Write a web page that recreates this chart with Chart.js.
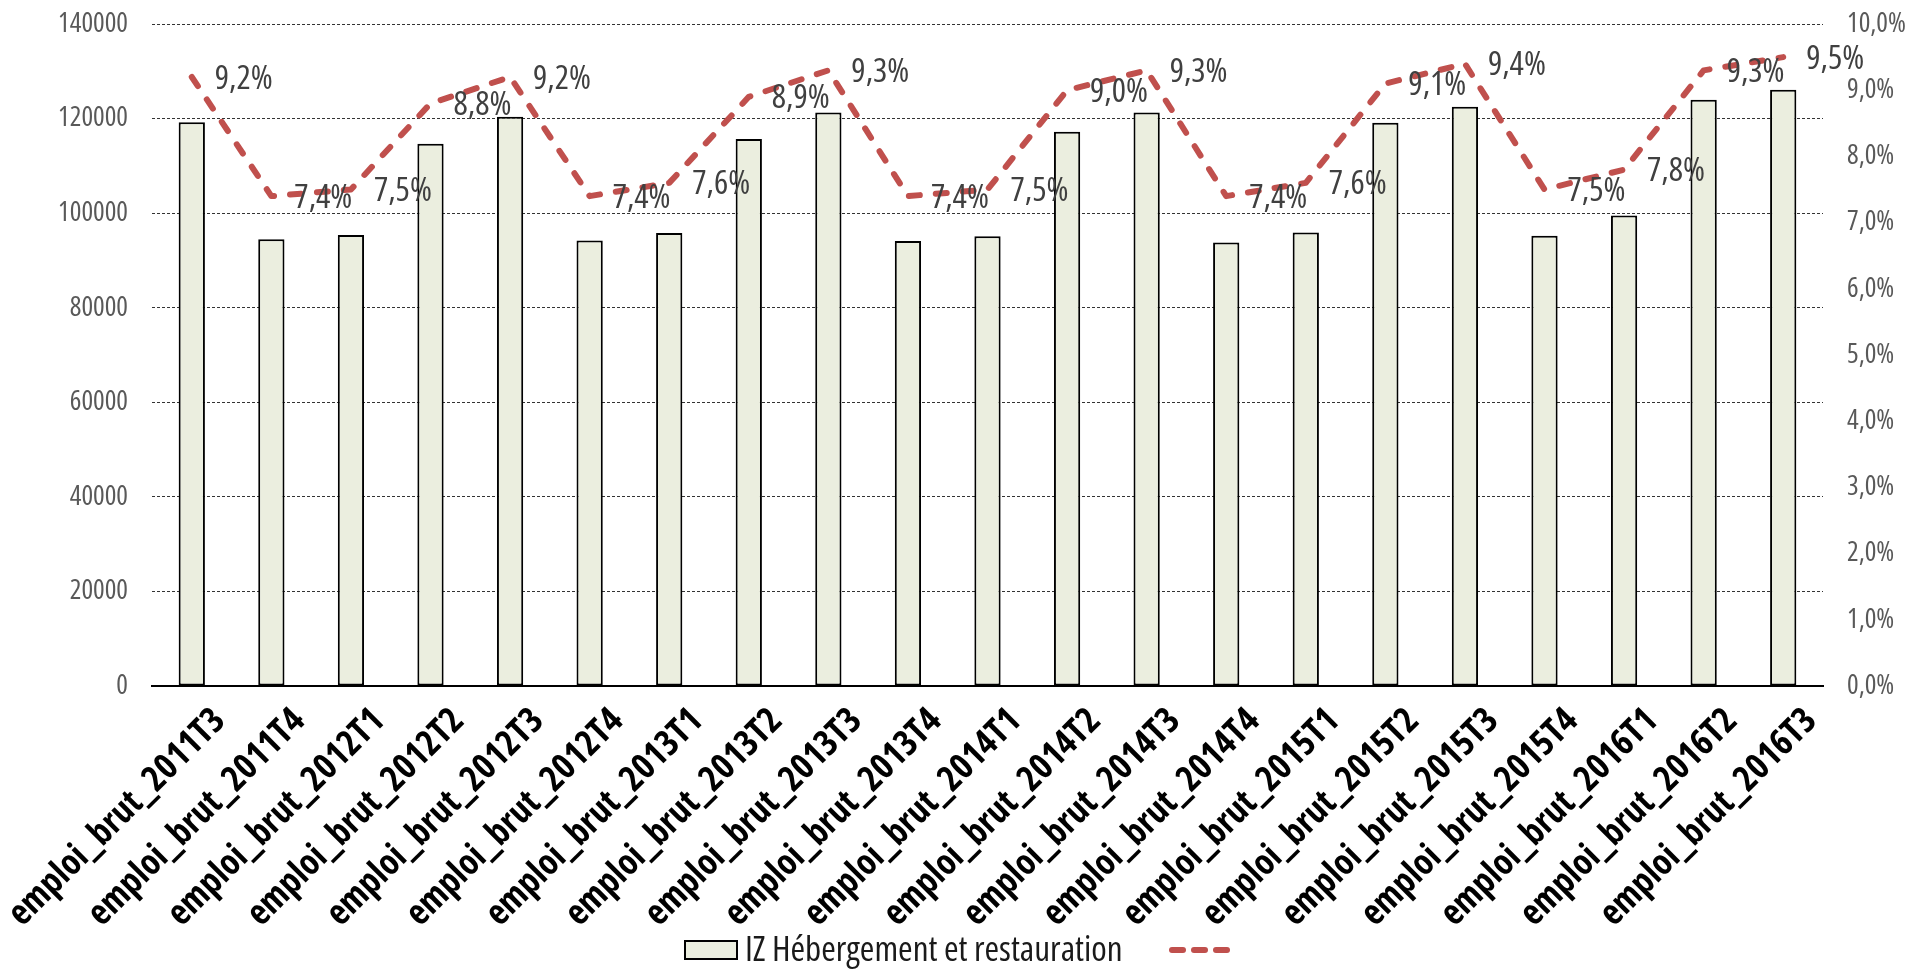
<!DOCTYPE html>
<html>
<head>
<meta charset="utf-8">
<script src="https://cdn.jsdelivr.net/npm/chart.js@4.4.0/dist/chart.umd.min.js"></script>
<style>
  html, body { margin: 0; padding: 0; background: #fff; }
  #wrap { width: 1910px; height: 969px; }
</style>
</head>
<body>
<div id="wrap"><canvas id="chart" width="1910" height="969"></canvas></div>
<script>
// Emploi brut trimestriel, hébergement-restauration (barres) + part en % (ligne pointillée).

const QUARTERS = [
  'emploi_brut_2011T3', 'emploi_brut_2011T4', 'emploi_brut_2012T1', 'emploi_brut_2012T2',
  'emploi_brut_2012T3', 'emploi_brut_2012T4', 'emploi_brut_2013T1', 'emploi_brut_2013T2',
  'emploi_brut_2013T3', 'emploi_brut_2013T4', 'emploi_brut_2014T1', 'emploi_brut_2014T2',
  'emploi_brut_2014T3', 'emploi_brut_2014T4', 'emploi_brut_2015T1', 'emploi_brut_2015T2',
  'emploi_brut_2015T3', 'emploi_brut_2015T4', 'emploi_brut_2016T1', 'emploi_brut_2016T2',
  'emploi_brut_2016T3',
];
const EMPLOI = [
  119200, 94500, 95400, 114700, 120400, 94200, 95800, 115700, 121300, 94100, 95100,
  117200, 121300, 93800, 95900, 119100, 122500, 95200, 99500, 124000, 126100,
];
const PART = [
  9.2, 7.4, 7.5, 8.8, 9.2, 7.4, 7.6, 8.9, 9.3, 7.4, 7.5,
  9.0, 9.3, 7.4, 7.6, 9.1, 9.4, 7.5, 7.8, 9.3, 9.5,
];
const LEGEND_BAR = 'IZ Hébergement et restauration';

const BAR_FILL = '#EBEEDF';
const LINE_RED = '#C0504D';

const fmtPct = v => v.toFixed(1).replace('.', ',') + '%';

// The original uses Arial Narrow; take the first condensed face we can find, else plain Liberation Sans.
const _mctx = document.createElement('canvas').getContext('2d');
function _w(font, s) { _mctx.font = font; return _mctx.measureText(s).width; }
function pickNarrow() {
  const sample = 'emploi_brut_2016T3 140000';
  const base = _w('40px "Liberation Sans"', sample);
  const mono = _w('40px monospace', sample);
  const cands = [
    ['', '"Liberation Sans Narrow"'], ['', '"Arial Narrow"'], ['', '"DejaVu Sans Condensed"'],
    ['condensed', '"Liberation Sans"'], ['condensed', '"Open Sans"'], ['condensed', '"Noto Sans"'],
    ['condensed', '"DejaVu Sans"'], ['condensed', 'Roboto'],
  ];
  for (const [st, fam] of cands) {
    const w = _w(`${st} 40px ${fam}, monospace`, sample);
    if (w < base * 0.92 && Math.abs(w - mono) > 1) return { stretch: st, family: fam };
  }
  return { stretch: '', family: '"Liberation Sans"' };
}
const NARROW = pickNarrow();
const FAMILY = NARROW.family + ', "Liberation Sans", Arial, sans-serif';
// Chart.js rejects a stretch keyword in font.style but passes font.weight through untouched
const W_NORMAL = (NARROW.stretch + ' normal').trim();
const W_BOLD = (NARROW.stretch + ' bold').trim();

// font size that makes a sample text span the width measured on the original
function sizeFor(text, targetW, weight) {
  const f = `${weight} 40px ${FAMILY}`;
  return Math.round(40 * targetW / _w(f, text) * 10) / 10;
}
const TICK_SIZE = sizeFor('140000', 70, W_NORMAL);
const XLAB_SIZE = sizeFor('emploi_brut_2016T3', 290, W_BOLD);
const PCT_SIZE = sizeFor('9,2%', 58, W_NORMAL);
const LEG_SIZE = sizeFor(LEGEND_BAR, 378, W_NORMAL);

// Value labels right of each line point
const pctLabels = {
  id: 'pctLabels',
  afterDatasetsDraw(chart) {
    const meta = chart.getDatasetMeta(0);
    const ctx = chart.ctx;
    ctx.save();
    ctx.font = `${W_NORMAL} ${PCT_SIZE}px ${FAMILY}`;
    ctx.fillStyle = '#404040';
    ctx.textAlign = 'left';
    ctx.textBaseline = 'middle';
    meta.data.forEach((pt, i) => {
      ctx.fillText(fmtPct(PART[i]), pt.x + 23, pt.y + 2);
    });
    ctx.restore();
  },
};

// Excel-style legend at the bottom: bar swatch + label, then a dashed line sample without text
const bottomLegend = {
  id: 'bottomLegend',
  afterDraw(chart) {
    const ctx = chart.ctx;
    const y = 950;
    ctx.save();
    ctx.fillStyle = BAR_FILL;
    ctx.strokeStyle = '#000';
    ctx.lineWidth = 2;
    ctx.fillRect(685, 941, 52, 18);
    ctx.strokeRect(685, 941, 52, 18);
    ctx.font = `${W_NORMAL} ${LEG_SIZE}px ${FAMILY}`;
    ctx.fillStyle = '#1a1a1a';
    ctx.textAlign = 'left';
    ctx.textBaseline = 'middle';
    ctx.fillText(LEGEND_BAR, 745, y + 1);
    ctx.strokeStyle = LINE_RED;
    ctx.lineWidth = 6;
    ctx.lineCap = 'round';
    for (let k = 0; k < 3; k++) {
      const x0 = 1172 + k * 22;
      ctx.beginPath();
      ctx.moveTo(x0, y);
      ctx.lineTo(x0 + 11, y);
      ctx.stroke();
    }
    ctx.restore();
  },
};

new Chart(document.getElementById('chart'), {
  type: 'bar',
  data: {
    labels: QUARTERS,
    datasets: [
      {
        type: 'line',
        label: '',
        data: PART,
        yAxisID: 'y1',
        borderColor: LINE_RED,
        borderWidth: 6,
        borderDash: [11, 16],
        borderCapStyle: 'round',
        borderJoinStyle: 'round',
        pointRadius: 0,
        tension: 0,
        fill: false,
        order: 0,
      },
      {
        type: 'bar',
        label: LEGEND_BAR,
        data: EMPLOI,
        yAxisID: 'y',
        backgroundColor: BAR_FILL,
        borderColor: '#000',
        borderWidth: 2,
        borderSkipped: false,
        categoryPercentage: 1,
        barPercentage: 0.33,
        order: 1,
      },
    ],
  },
  options: {
    responsive: false,
    animation: false,
    layout: { padding: { top: 24, left: 0, right: 0, bottom: 0 } },
    plugins: {
      legend: { display: false },
      tooltip: { enabled: false },
    },
    scales: {
      x: {
        grid: { display: false },
        border: { display: true, color: '#000', width: 2 },
        afterFit: s => { s.height = 283; s.paddingLeft = 0; s.paddingRight = 0; },
        ticks: {
          autoSkip: false,
          maxRotation: 45,
          minRotation: 45,
          padding: 6,
          labelOffset: 28,
          color: '#000',
          font: { family: FAMILY, size: XLAB_SIZE, weight: W_BOLD },
        },
      },
      y: {
        position: 'left',
        min: 0,
        max: 140000,
        afterFit: s => { s.width = 152; s.paddingTop = 0; s.paddingBottom = 0; },
        ticks: {
          stepSize: 20000,
          padding: 24,
          color: '#595959',
          font: { family: FAMILY, size: TICK_SIZE, weight: W_NORMAL },
          callback: v => String(v),
        },
        grid: { color: '#333', lineWidth: 1, drawTicks: false },
        border: { display: false, dash: [3, 2] },
      },
      y1: {
        position: 'right',
        min: 0,
        max: 10,
        afterFit: s => { s.width = 87; s.paddingTop = 0; s.paddingBottom = 0; },
        ticks: {
          stepSize: 1,
          padding: 24,
          color: '#595959',
          font: { family: FAMILY, size: TICK_SIZE, weight: W_NORMAL },
          callback: v => fmtPct(v),
        },
        grid: { display: false, drawTicks: false },
        border: { display: false },
      },
    },
  },
  plugins: [pctLabels, bottomLegend],
});
</script>
</body>
</html>
